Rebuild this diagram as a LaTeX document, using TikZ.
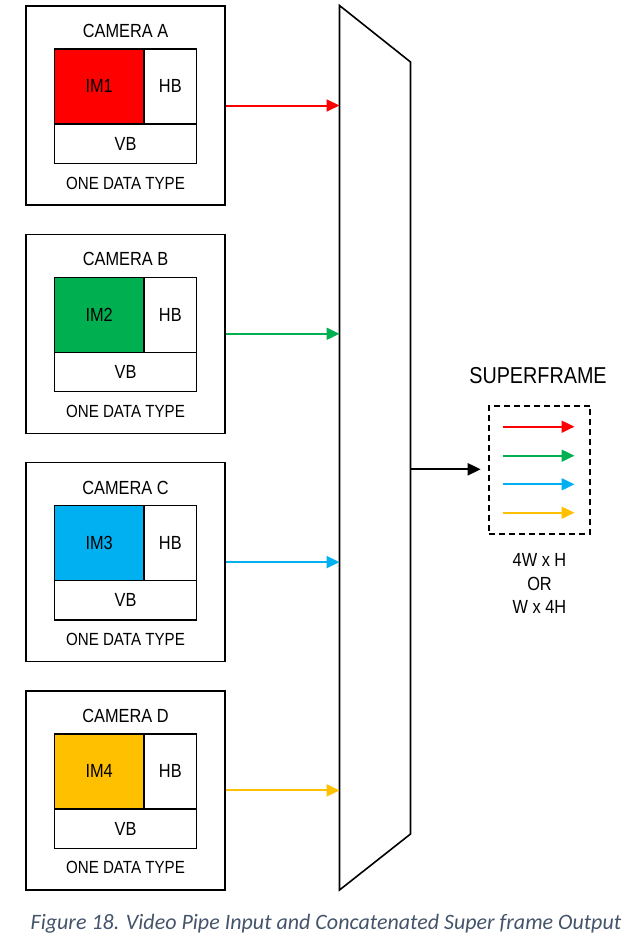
\documentclass[tikz,border=0pt]{standalone}
\usepackage{fontspec}
\setmainfont{Liberation Sans}[FakeStretch=0.86]
\newfontfamily\capfont{Carlito}
\usetikzlibrary{arrows.meta}
\definecolor{cRed}{HTML}{FF0000}
\definecolor{cGreen}{HTML}{00B050}
\definecolor{cBlue}{HTML}{00B0F0}
\definecolor{cYellow}{HTML}{FFC000}
\definecolor{capcol}{HTML}{44546A}
\tikzset{
  box/.style={draw=black, line width=1.3pt, rectangle, inner sep=0pt},
  lbl/.style={font=\fontsize{19}{22}\selectfont, inner sep=0pt},
  odt/.style={font=\fontsize{17.6}{20}\selectfont, inner sep=0pt},
  flow/.style={line width=2pt, -{Triangle[length=13pt,width=12pt]}},
}
\newcommand{\camblock}[5]{%
  % #1 name, #2 center y, #3 label letter, #4 colour, #5 IM text
  \node[box, minimum width=199pt, minimum height=199pt] (#1) at (125.5,#2) {};
  \node[lbl] (#1lbl) at (125.5,#2-74.5) {CAMERA #3};
  \node[box, fill=#4, minimum width=89.6pt, minimum height=75pt, anchor=north west, lbl] (#1im) at (53.7,#2-57.2) {#5};
  \node[box, minimum width=52.7pt, minimum height=75pt, anchor=north west, lbl] (#1hb) at (143.3,#2-57.2) {HB};
  \node[box, minimum width=142.3pt, minimum height=39.4pt, anchor=north west, lbl] (#1vb) at (53.7,#2+17.8) {VB};
  \node[odt] (#1odt) at (125.5,#2+77.5) {ONE DATA TYPE};
}
\begin{document}
\begin{tikzpicture}[x=1pt,y=-1pt]
\useasboundingbox (0,0) rectangle (636,942);
\camblock{camA}{105.5}{A}{cRed}{IM1}
\camblock{camB}{333.8}{B}{cGreen}{IM2}
\camblock{camC}{562.1}{C}{cBlue}{IM3}
\camblock{camD}{790.4}{D}{cYellow}{IM4}
% multiplexer
\coordinate (tl) at (339.5,5.5);
\coordinate (tr) at (410.5,62);
\coordinate (br) at (410.5,834);
\coordinate (bl) at (339.5,890);
\draw[line width=1.6pt, line join=miter] (tl) -- (tr) -- (br) -- (bl) -- cycle;
\coordinate (inA) at (339.5,105.5);
\coordinate (inB) at (339.5,333.8);
\coordinate (inC) at (339.5,562.1);
\coordinate (inD) at (339.5,790.4);
\draw[flow, cRed] (camA.east) -- (inA);
\draw[flow, cGreen] (camB.east) -- (inB);
\draw[flow, cBlue] (camC.east) -- (inC);
\draw[flow, cYellow] (camD.east) -- (inD);
% superframe
\node[font=\fontsize{23}{26}\selectfont, inner sep=0pt] (sftitle) at (538,375.5) {SUPERFRAME};
\node[draw=black, line width=1.6pt, dash pattern=on 6pt off 4pt, rectangle, minimum width=101pt, minimum height=128.5pt, inner sep=0pt] (sf) at (539.5,470) {};
\coordinate (out) at (410.5,469.3);
\draw[flow, black] (out) -- ([xshift=-7.5pt]sf.west |- out);
\coordinate (s1a) at (502.7,426.7); \coordinate (s1b) at (574.5,426.7);
\coordinate (s2a) at (502.7,455.7); \coordinate (s2b) at (574.5,455.7);
\coordinate (s3a) at (502.7,484.3); \coordinate (s3b) at (574.5,484.3);
\coordinate (s4a) at (502.7,512.7); \coordinate (s4b) at (574.5,512.7);
\draw[flow, cRed] (s1a) -- (s1b);
\draw[flow, cGreen] (s2a) -- (s2b);
\draw[flow, cBlue] (s3a) -- (s3b);
\draw[flow, cYellow] (s4a) -- (s4b);
\node[lbl, align=center, font=\fontsize{19}{23.5}\selectfont] (dims) at (539.5,583.5) {4W x H\\OR\\W x 4H};
% caption
\node[inner sep=0pt, text=capcol, font=\capfont\itshape\fontsize{22}{25}\selectfont] (cap) at (326,924) {Figure 18. Video Pipe Input and Concatenated Super frame Output};
\end{tikzpicture}
\end{document}
